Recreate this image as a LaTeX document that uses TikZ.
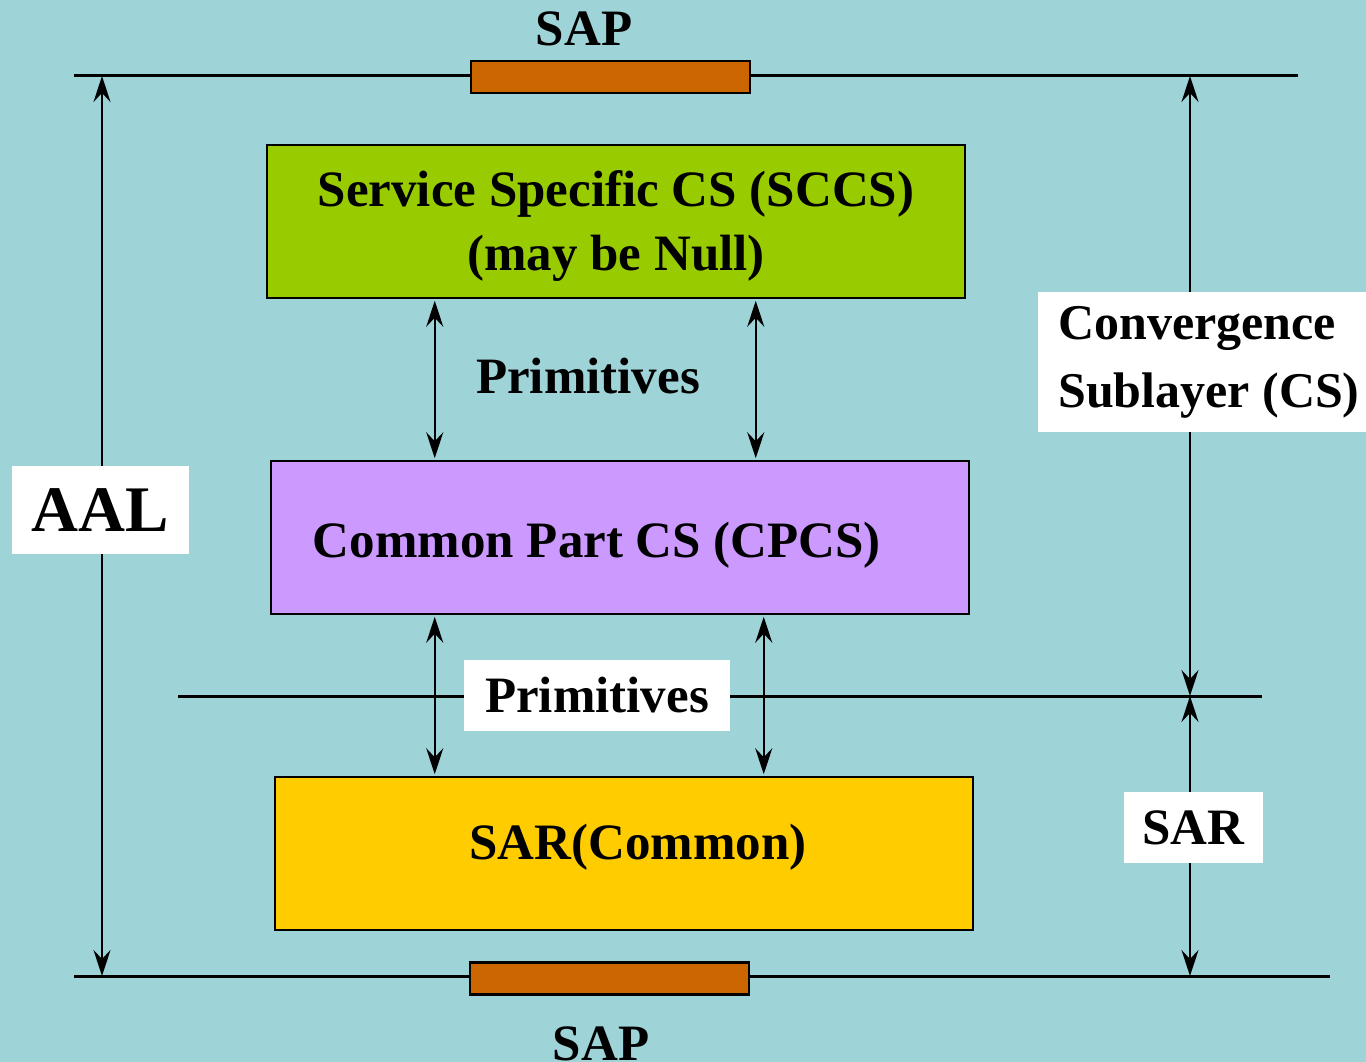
\documentclass[tikz,border=0pt]{standalone}
\usepackage{fontspec}
\setmainfont{Liberation Serif}
\usetikzlibrary{arrows.meta}
\definecolor{bgteal}{RGB}{158,211,216}
\definecolor{sapfill}{RGB}{204,102,0}
\definecolor{sccsfill}{RGB}{153,204,0}
\definecolor{cpcsfill}{RGB}{204,153,255}
\definecolor{sarfill}{RGB}{255,204,0}
\tikzset{
  layer/.style={draw=black, line width=2.5pt, minimum width=698pt, minimum height=153pt, inner sep=0pt},
  sapbox/.style={draw=black, line width=2.5pt, fill=sapfill, minimum width=279pt, minimum height=32pt, inner sep=0pt},
  rule/.style={line width=3pt},
  dbl/.style={line width=2.5pt, {Stealth[length=26pt,width=17pt,inset=9pt]}-{Stealth[length=26pt,width=17pt,inset=9pt]}},
  lbl/.style={font=\bfseries\fontsize{51}{64}\selectfont, inner sep=0pt, align=center},
  tag/.style={fill=white, inner sep=0pt, font=\bfseries\fontsize{51}{68}\selectfont}
}
\begin{document}
\begin{tikzpicture}[x=1pt, y=-1pt]
  \fill[bgteal] (0,0) rectangle (1366,1062);
  \useasboundingbox (0,0) rectangle (1366,1062);

  % horizontal boundaries
  \coordinate (topL) at (74,76);
  \coordinate (topR) at (1298,76);
  \coordinate (botL) at (74,976);
  \coordinate (botR) at (1330,976);
  \coordinate (midL) at (178,696);
  \coordinate (midR) at (1262,696);
  \draw[rule] (topL) -- (topR);
  \draw[rule] (botL) -- (botR);
  \draw[rule] (midL) -- (midR);

  % service access points
  \node[sapbox] (sapT) at (610.5,77) {};
  \node[sapbox] (sapB) at (609.5,978.5) {};
  \node[lbl] (sapTl) at (584,29) {SAP};
  \node[lbl] (sapBl) at (601,1044) {SAP};

  % layers
  \node[layer, fill=sccsfill] (sccs) at (616,221.5) {};
  \node[lbl] (sccsl) at (616,226) {Service Specific CS (SCCS)\\(may be Null)};
  \node[layer, fill=cpcsfill] (cpcs) at (620,537.5) {};
  \node[lbl] (cpcsl) at (597,545) {Common Part CS (CPCS)};
  \node[layer, fill=sarfill] (sar) at (624,853.5) {};
  \node[lbl] (sarl) at (638,847) {SAR(Common)};

  % primitives between layers
  \draw[dbl] ([xshift=169pt,yshift=-1.5pt]sccs.south west) -- ([xshift=165pt,yshift=1.5pt]cpcs.north west);
  \draw[dbl] ([xshift=490pt,yshift=-1.5pt]sccs.south west) -- ([xshift=486pt,yshift=1.5pt]cpcs.north west);
  \node[lbl] (prim1) at (588,376) {Primitives};
  \draw[dbl] ([xshift=165pt,yshift=-1.5pt]cpcs.south west) -- ([xshift=161pt,yshift=1.5pt]sar.north west);
  \draw[dbl] ([xshift=494pt,yshift=-1.5pt]cpcs.south west) -- ([xshift=490pt,yshift=1.5pt]sar.north west);
  \node[tag, minimum width=266pt, minimum height=71pt] (prim2) at (597,695.5) {Primitives};

  % extent markers
  \coordinate (aalT) at (102,76);
  \coordinate (aalB) at (102,976);
  \draw[dbl] (aalT) -- (aalB);
  \node[tag, minimum width=177pt, minimum height=88pt, font=\bfseries\fontsize{65}{70}\selectfont] (aal) at (100.5,510) {AAL};

  \coordinate (csT) at (1190,76);
  \coordinate (csB) at (1190,696);
  \coordinate (sarB) at (1190,976);
  \draw[dbl] (csT) -- (csB);
  \draw[dbl] (csB) -- (sarB);
  \node[tag, minimum width=328pt, minimum height=140pt] (cslbox) at (1202,362) {};
  \node[lbl, align=left, anchor=west, font=\bfseries\fontsize{50}{68}\selectfont] (csl) at (1058,362) {Convergence\\Sublayer (CS)};
  \node[tag, minimum width=139pt, minimum height=71pt] (sarTag) at (1193.5,827.5) {SAR};
\end{tikzpicture}
\end{document}
